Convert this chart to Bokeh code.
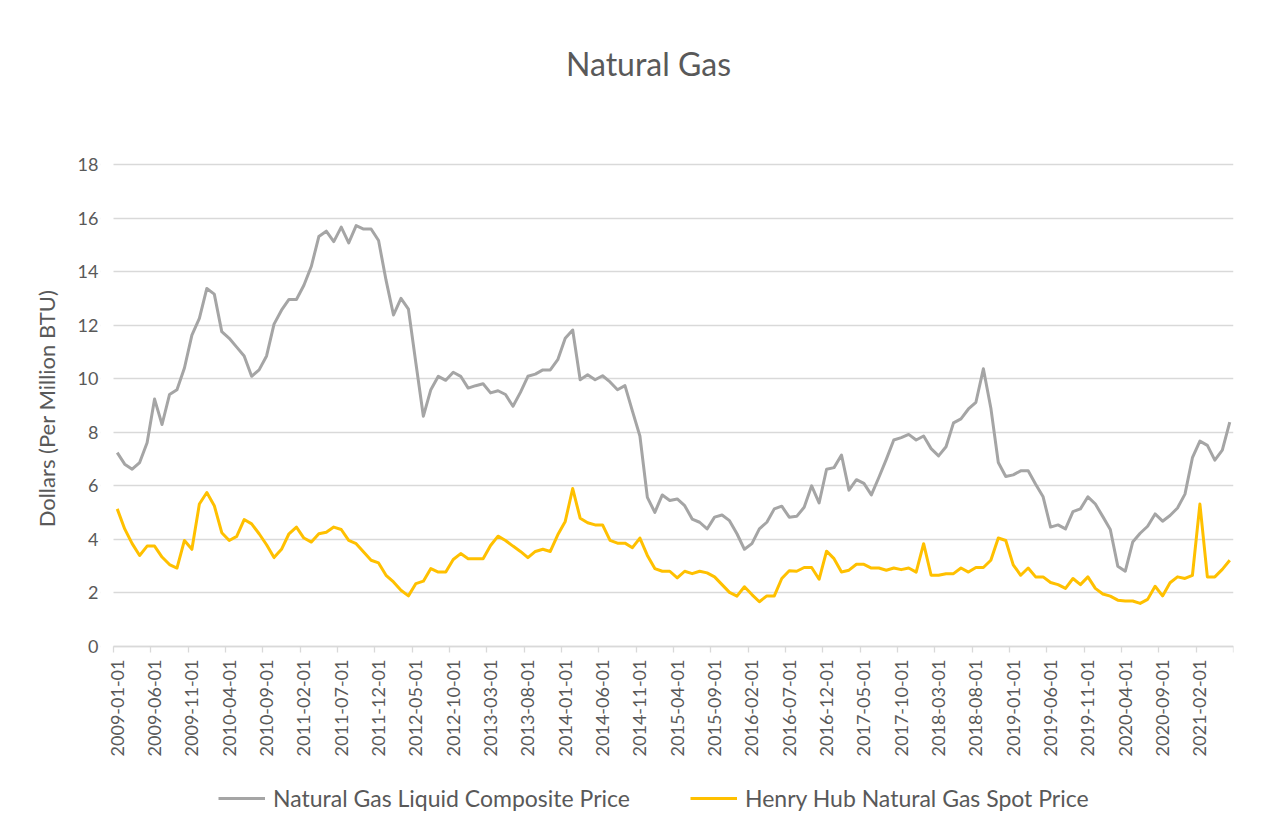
import math
import pandas as pd
from bokeh.plotting import figure
from bokeh.models import Range1d, FixedTicker, Legend, LegendItem, ColumnDataSource, Label, BoxAnnotation
from bokeh.embed import file_html
from bokeh.resources import INLINE

# Monthly categories 2009-01 .. 2021-06
months = [d.strftime("%Y-%m-%d") for d in pd.date_range("2009-01-01", periods=150, freq="MS")]

ngl_composite = [
    7.24, 6.81, 6.62, 6.87, 7.61, 9.24, 8.29, 9.41, 9.59, 10.40,
    11.63, 12.25, 13.37, 13.16, 11.76, 11.51, 11.18, 10.85, 10.09, 10.33,
    10.85, 12.04, 12.56, 12.96, 12.96, 13.49, 14.20, 15.31, 15.51, 15.12,
    15.66, 15.07, 15.72, 15.59, 15.59, 15.16, 13.68, 12.38, 13.00, 12.60,
    10.58, 8.60, 9.59, 10.09, 9.94, 10.24, 10.09, 9.65, 9.74, 9.81,
    9.47, 9.55, 9.41, 8.97, 9.49, 10.09, 10.17, 10.33, 10.33, 10.71,
    11.51, 11.82, 9.96, 10.15, 9.96, 10.11, 9.88, 9.59, 9.74, 8.79,
    7.86, 5.57, 5.01, 5.66, 5.45, 5.51, 5.26, 4.76, 4.64, 4.39,
    4.83, 4.91, 4.70, 4.21, 3.63, 3.84, 4.39, 4.64, 5.14, 5.24,
    4.83, 4.86, 5.20, 6.00, 5.36, 6.62, 6.68, 7.15, 5.84, 6.23,
    6.09, 5.66, 6.31, 6.99, 7.71, 7.80, 7.92, 7.71, 7.86, 7.39,
    7.12, 7.46, 8.35, 8.50, 8.87, 9.12, 10.37, 8.91, 6.87, 6.35,
    6.41, 6.56, 6.56, 6.06, 5.59, 4.46, 4.54, 4.39, 5.04, 5.14,
    5.59, 5.32, 4.85, 4.37, 3.00, 2.81, 3.90, 4.23, 4.49, 4.95,
    4.68, 4.89, 5.17, 5.69, 7.05, 7.67, 7.51, 6.96, 7.33, 8.38,
]

henry_hub = [
    5.14, 4.39, 3.84, 3.40, 3.75, 3.75, 3.34, 3.06, 2.93, 3.96,
    3.63, 5.32, 5.75, 5.26, 4.25, 3.96, 4.11, 4.74, 4.58, 4.21,
    3.80, 3.32, 3.63, 4.21, 4.46, 4.05, 3.90, 4.21, 4.27, 4.46,
    4.37, 3.96, 3.84, 3.53, 3.22, 3.12, 2.66, 2.41, 2.10, 1.89,
    2.35, 2.44, 2.91, 2.78, 2.78, 3.25, 3.47, 3.28, 3.28, 3.28,
    3.77, 4.12, 3.96, 3.75, 3.55, 3.32, 3.55, 3.63, 3.55, 4.17,
    4.67, 5.90, 4.79, 4.62, 4.54, 4.54, 3.96, 3.86, 3.86, 3.69,
    4.05, 3.40, 2.91, 2.81, 2.81, 2.56, 2.81, 2.72, 2.81, 2.75,
    2.60, 2.31, 2.02, 1.88, 2.23, 1.94, 1.67, 1.89, 1.89, 2.54,
    2.83, 2.81, 2.95, 2.95, 2.51, 3.56, 3.28, 2.78, 2.85, 3.07,
    3.07, 2.93, 2.93, 2.85, 2.93, 2.87, 2.93, 2.78, 3.84, 2.66,
    2.66, 2.72, 2.72, 2.93, 2.78, 2.95, 2.95, 3.22, 4.05, 3.96,
    3.05, 2.66, 2.93, 2.60, 2.60, 2.39, 2.31, 2.17, 2.54, 2.31,
    2.60, 2.17, 1.96, 1.88, 1.73, 1.70, 1.70, 1.61, 1.76, 2.25,
    1.89, 2.38, 2.60, 2.54, 2.66, 5.32, 2.60, 2.60, 2.88, 3.22,
]

y_ticks = [0, 2, 4, 6, 8, 10, 12, 14, 16, 18]
label_every = 5

series_names = ["Natural Gas Liquid Composite Price", "Henry Hub Natural Gas Spot Price"]
series_colors = ["#A5A5A5", "#FFC000"]

FONT = "Lato"
TXT = "#595959"
GRID = "#D9D9D9"

W, H = 1262, 816
PLOT_L, PLOT_R = 113, 1233          # pixel x of the category area
FRAME_L = 100                       # canvas frame starts a bit earlier so the first label is not clipped
Y0_PX, Y18_PX = 646, 164            # pixel y of value 0 and 18
px_per_unit = (Y0_PX - Y18_PX) / 18.0
y_lo = -(H - Y0_PX) / px_per_unit
y_hi = 18 + Y18_PX / px_per_unit

n = len(months)
px_per_cat = (PLOT_R - PLOT_L) / n
x_lo = -0.5 - (PLOT_L - FRAME_L) / px_per_cat
x_hi = n - 0.5

idx = list(range(n))
src = ColumnDataSource(dict(x=idx, ngl=ngl_composite, hh=henry_hub, month=months))

p = figure(
    width=W, height=H,
    output_backend="svg", toolbar_location=None,
    x_range=Range1d(x_lo, x_hi), y_range=Range1d(y_lo, y_hi),
    min_border_left=FRAME_L, min_border_right=W - PLOT_R, min_border_top=0, min_border_bottom=0,
)
p.outline_line_color = None
p.background_fill_color = "white"
p.border_fill_color = "white"

# grid
p.xgrid.visible = False
p.ygrid.ticker = FixedTicker(ticks=y_ticks)
p.ygrid.grid_line_color = GRID
p.ygrid.grid_line_width = 1.3

# hide the grid left of the category area
p.add_layout(BoxAnnotation(right=-0.5, fill_color="white", fill_alpha=1.0, line_color=None, level="glyph"))

# x axis at value 0: labels at category centres, tick marks at boundaries every 5 categories
label_pos = list(range(0, n, label_every))
p.xaxis.fixed_location = 0
p.xaxis.bounds = (-0.5, n - 0.5)
p.xaxis.ticker = FixedTicker(ticks=label_pos, minor_ticks=[i - 0.5 for i in range(0, n + 1, label_every)])
p.xaxis.major_label_overrides = {i: months[i] for i in label_pos}
p.xaxis.major_label_orientation = math.pi / 2
p.xaxis.major_tick_line_color = None
p.xaxis.major_tick_out = 0
p.xaxis.major_tick_in = 0
p.xaxis.minor_tick_line_color = GRID
p.xaxis.minor_tick_line_width = 1.3
p.xaxis.minor_tick_out = 6
p.xaxis.minor_tick_in = 0
p.xaxis.axis_line_color = GRID
p.xaxis.axis_line_width = 1.3
p.xaxis.major_label_standoff = 7
p.xaxis.major_label_text_font = FONT
p.xaxis.major_label_text_font_size = "18px"
p.xaxis.major_label_text_color = TXT

# y axis
p.yaxis.ticker = FixedTicker(ticks=y_ticks)
p.yaxis.axis_line_color = None
p.yaxis.major_tick_line_color = None
p.yaxis.minor_tick_line_color = None
p.yaxis.major_tick_out = 0
p.yaxis.major_tick_in = 0
p.yaxis.major_label_standoff = 2
p.yaxis.major_label_text_font = FONT
p.yaxis.major_label_text_font_size = "18px"
p.yaxis.major_label_text_color = TXT
p.yaxis.axis_label = "Dollars (Per Million BTU)"
p.yaxis.axis_label_text_font = FONT
p.yaxis.axis_label_text_font_size = "22px"
p.yaxis.axis_label_text_font_style = "normal"
p.yaxis.axis_label_text_color = TXT
p.yaxis.axis_label_standoff = 15

r1 = p.line("x", "ngl", source=src, line_color=series_colors[0], line_width=3, line_join="round")
r2 = p.line("x", "hh", source=src, line_color=series_colors[1], line_width=3, line_join="round")

title = Label(x=648 - FRAME_L, y=H - 63, x_units="screen", y_units="screen", text="Natural Gas",
              text_align="center", text_baseline="middle", text_font=FONT,
              text_font_size="32px", text_color=TXT)
p.add_layout(title)

legend = Legend(
    items=[LegendItem(label=series_names[0], renderers=[r1]),
           LegendItem(label=series_names[1], renderers=[r2])],
    orientation="horizontal", location=(218 - FRAME_L, H - 798 - 14),
    glyph_width=47, glyph_height=28, label_height=28, label_standoff=8, spacing=60,
    padding=0, margin=0, border_line_color=None, background_fill_alpha=0,
    label_text_font=FONT, label_text_font_size="23px", label_text_color=TXT,
    label_text_baseline="middle",
)
p.add_layout(legend)

open("out.html", "w").write(file_html(p, INLINE))
